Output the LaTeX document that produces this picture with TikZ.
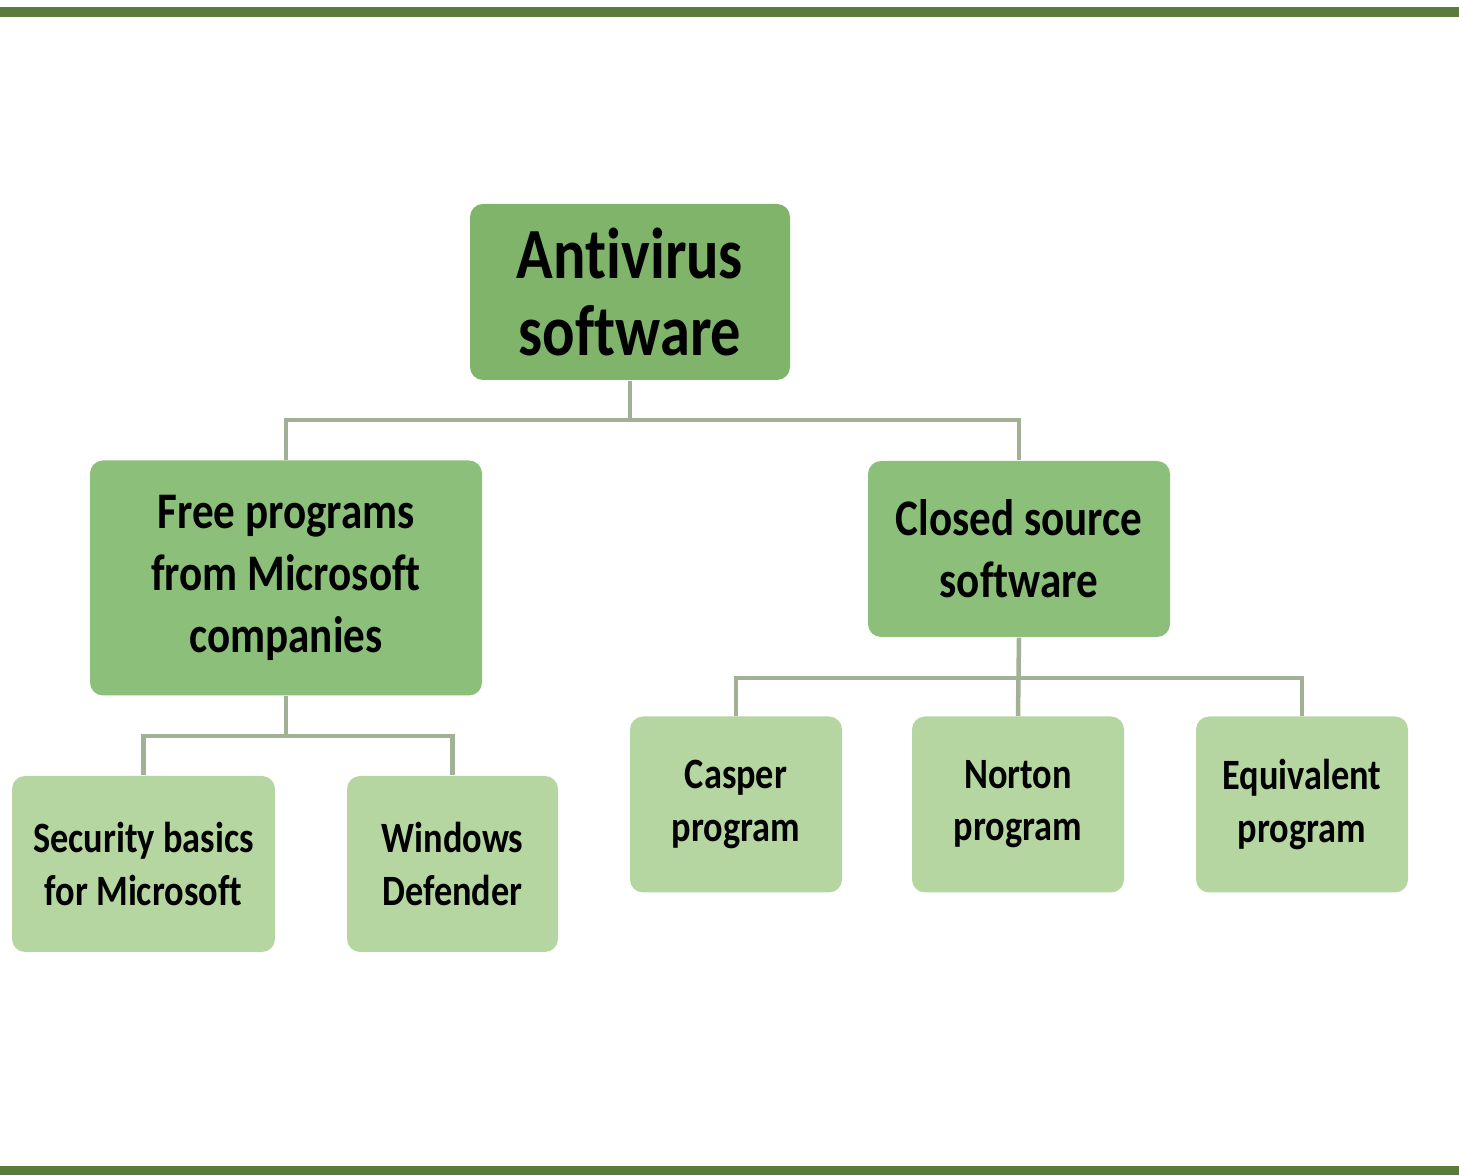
\documentclass[tikz,border=0pt]{standalone}
\usepackage{fontspec}
\setmainfont{Carlito}
\newfontfamily\boxfont{Carlito}[FakeStretch=0.84, Ligatures=NoCommon, RawFeature=-clig]
\usepackage{tikz}
\usetikzlibrary{positioning}
\definecolor{bandgreen}{HTML}{5A7C3B}
\definecolor{rootgreen}{HTML}{80B46B}
\definecolor{groupgreen}{HTML}{8CBF79}
\definecolor{leafgreen}{HTML}{B5D6A1}
\definecolor{linkgray}{HTML}{A2B196}

\begin{document}
\begin{tikzpicture}[
		x=0.1mm, y=-0.1mm,
		BaseBox/.style={rounded corners=1.3mm, align=center, text=black, inner sep=0pt},
		RootBox/.style={BaseBox, fill=rootgreen, minimum width=32mm, minimum height=17.6mm,
			font=\boxfont\bfseries\fontsize{20.5}{22}\selectfont},
		GroupBox/.style={BaseBox, fill=groupgreen,
			font=\boxfont\bfseries\fontsize{14.6}{17.6}\selectfont},
		LeafBox/.style={BaseBox, fill=leafgreen, minimum height=17.6mm,
			font=\boxfont\bfseries\fontsize{12.3}{14.8}\selectfont},
		Links/.style={draw=linkgray, line width=0.45mm},
		Band/.style={fill=bandgreen}
		]
		\useasboundingbox (0,0) rectangle (1459,1175);
		
		% frame bands
		\fill[Band] (0,7) rectangle (1459,17);
		\fill[Band] (0,1166) rectangle (1459,1175);
		
		% boxes
		\node[RootBox] (Root) at (630,292) {Antivirus\\software};
		
		\node[GroupBox, minimum width=39.2mm, minimum height=23.5mm] (Free) at (286,578)
			{Free programs\\from Microsoft\\companies};
		\node[GroupBox, minimum width=30.2mm, minimum height=17.6mm] (Closed) at (1019,549)
			{Closed source\\software};
		
		\node[LeafBox, minimum width=26.3mm] (Security) at (143.5,864) {Security basics\\for Microsoft};
		\node[LeafBox, minimum width=21.1mm] (Defender) at (452.5,864) {Windows\\Defender};
		
		\node[LeafBox, minimum width=21.2mm] (Casper) at (736,804.5) {Casper\\program};
		\node[LeafBox, minimum width=21.2mm] (Norton) at (1018,804.5) {Norton\\program};
		\node[LeafBox, minimum width=21.2mm] (Equivalent) at (1302,804.5) {Equivalent\\program};
		
		% connectors
		\coordinate (RootBus) at (630,420);
		\coordinate (FreeBus) at (286,736);
		\coordinate (ClosedBus) at (1019,678);
		
		\draw[Links] (Root.south) -- (RootBus);
		\draw[Links] (Free.north) |- (RootBus) -| (Closed.north);
		
		\draw[Links] (Free.south) -- (FreeBus);
		\draw[Links] (Security.north) |- (FreeBus) -| (Defender.north);
		
		\draw[Links] (Closed.south) -- (Norton.north);
		\draw[Links] (Casper.north) |- (ClosedBus) -| (Equivalent.north);
		
\end{tikzpicture}
\end{document}
